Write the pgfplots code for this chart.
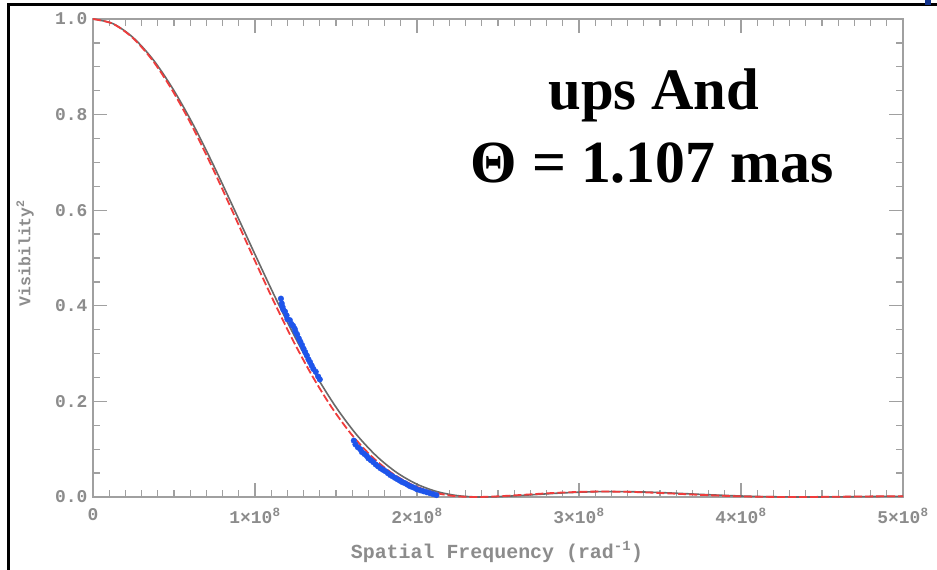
\documentclass[border=0pt]{standalone}
\usepackage{fontspec}
\setmainfont{Liberation Mono}
\newfontfamily\annfont{Liberation Serif}
\usepackage{pgfplots}
\pgfplotsset{compat=1.18}
\definecolor{axgray}{RGB}{160,160,160}
\definecolor{labgray}{RGB}{140,140,140}
\definecolor{curvegray}{RGB}{105,105,105}
\definecolor{modelred}{RGB}{240,60,60}
\definecolor{ptblue}{RGB}{30,85,235}
\newcommand{\sx}[1]{#1×10\textsuperscript{8}}
\begin{document}
\begin{tikzpicture}
\useasboundingbox (0,0) rectangle (937bp,570bp);
\fill[white] (0,0) rectangle (937bp,570bp);
\begin{axis}[
  at={(93bp,73bp)}, anchor=south west,
  scale only axis, width=810bp, height=478bp,
  xmin=0, xmax=5, ymin=0, ymax=1,
  axis line style={draw=axgray, line width=1.6bp},
  xtick={0,1,2,3,4,5},
  xticklabels={0,\sx1,\sx2,\sx3,\sx4,\sx5},
  minor x tick num=9,
  ytick={0,0.2,0.4,0.6,0.8,1.0},
  yticklabels={0.0,0.2,0.4,0.6,0.8,1.0},
  minor y tick num=3,
  tick align=inside,
  major tick length=14bp, minor tick length=7bp,
  every tick/.style={draw=axgray, line width=1.3bp},
  tick label style={font=\bfseries\fontsize{18}{20}\selectfont, text=labgray},
  xticklabel style={yshift=-8bp},
  yticklabel style={xshift=-2bp},
  clip=false,
]
% uniform-disk model (gray)
\addplot[curvegray, line width=1.6bp, smooth] coordinates {
(0,1) (0.125,0.9900) (0.25,0.9604) (0.375,0.9133) (0.5,0.8501) (0.625,0.7748)
(0.75,0.6897) (0.875,0.5993) (1.0,0.5075) (1.125,0.4175) (1.25,0.3326)
(1.375,0.2555) (1.5,0.1879) (1.625,0.1312) (1.75,0.0856) (1.875,0.0511)
(2.0,0.0267) (2.125,0.0111) (2.25,0.0028) (2.375,0.0000) (2.5,0.0007)
(2.625,0.0029) (2.75,0.0055) (2.875,0.0081) (3.0,0.0100) (3.125,0.0112)
(3.25,0.0113) (3.375,0.0107) (3.5,0.0093) (3.625,0.0075) (3.75,0.0055)
(3.875,0.0037) (4.0,0.0021) (4.125,0.0009) (4.25,0.0003) (4.375,0.0000)
(4.5,0.0001) (4.625,0.0004) (4.75,0.0008) (4.875,0.0012) (5.0,0.0015)
};
% second model (red dashed)
\addplot[modelred, line width=1.8bp, dash pattern=on 8bp off 3bp, smooth] coordinates {
(0,1) (0.1227,0.9900) (0.2454,0.9604) (0.3681,0.9133) (0.4908,0.8501)
(0.6135,0.7748) (0.7362,0.6897) (0.8589,0.5993) (0.9816,0.5075) (1.1043,0.4175)
(1.2270,0.3326) (1.3497,0.2555) (1.4724,0.1879) (1.5951,0.1312) (1.7178,0.0856)
(1.8405,0.0511) (1.9632,0.0267) (2.0859,0.0111) (2.2086,0.0028) (2.3313,0.0000)
(2.4540,0.0007) (2.5767,0.0029) (2.6994,0.0055) (2.8221,0.0081) (2.9448,0.0100)
(3.0675,0.0112) (3.1902,0.0113) (3.3129,0.0107) (3.4356,0.0093) (3.5583,0.0075)
(3.6810,0.0055) (3.8037,0.0037) (3.9264,0.0021) (4.0491,0.0009) (4.1718,0.0003)
(4.2945,0.0000) (4.4172,0.0001) (4.5399,0.0004) (4.6626,0.0008) (4.7853,0.0012)
(4.9080,0.0015) (5.0,0.0017)
};
% measurements (blue)
\addplot[only marks, mark=*, mark size=2.8bp, ptblue, mark options={draw=ptblue, fill=ptblue}] coordinates {
(1.160,0.415) (1.165,0.405) (1.170,0.398) (1.175,0.392) (1.185,0.388)
(1.195,0.380) (1.200,0.372) (1.215,0.370) (1.225,0.362) (1.235,0.358)
(1.245,0.352) (1.250,0.346) (1.260,0.340) (1.270,0.332) (1.280,0.325)
(1.290,0.318) (1.300,0.310) (1.310,0.303) (1.320,0.296) (1.330,0.288)
(1.340,0.282) (1.350,0.275) (1.360,0.268) (1.375,0.262) (1.390,0.252)
(1.400,0.246)
(1.610,0.118) (1.620,0.110) (1.635,0.104) (1.650,0.100) (1.660,0.094)
(1.675,0.090) (1.690,0.086) (1.700,0.081) (1.715,0.077) (1.730,0.073)
(1.745,0.068) (1.760,0.064) (1.775,0.060) (1.790,0.057) (1.805,0.054)
(1.820,0.050) (1.835,0.046) (1.850,0.043) (1.865,0.040) (1.880,0.037)
(1.895,0.034) (1.910,0.031) (1.925,0.029) (1.940,0.026) (1.955,0.023)
(1.970,0.021) (1.985,0.019) (2.000,0.016) (2.020,0.014) (2.040,0.012)
(2.060,0.010) (2.080,0.008) (2.100,0.006) (2.120,0.004)
};
\end{axis}
% axis titles
\node[text=labgray, font=\bfseries\fontsize{20}{22}\selectfont] at (497bp,18bp) {Spatial Frequency (rad\textsuperscript{-1})};
\node[text=labgray, font=\bfseries\fontsize{16.5}{18}\selectfont, rotate=90] at (25bp,317bp) {Visibility\textsuperscript{2}};
% annotation
\node[anchor=base, font=\annfont\bfseries\fontsize{59}{63}\selectfont] at (654bp,460bp) {ups And};
\node[anchor=base, font=\annfont\bfseries\fontsize{60}{64}\selectfont] at (652bp,387bp) {Θ = 1.107 mas};
% outer frame
\draw[line width=3bp, black] (8bp,0) -- (8bp,565bp) -- (937bp,565bp);
\fill[ptblue!60!black] (925bp,565bp) rectangle (931bp,570bp);
\end{tikzpicture}
\end{document}
